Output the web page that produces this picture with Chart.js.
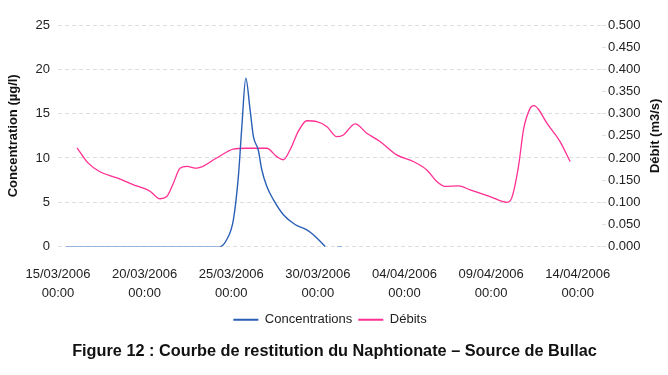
<!DOCTYPE html>
<html>
<head>
<meta charset="utf-8">
<script src="https://cdn.jsdelivr.net/npm/chart.js@4/dist/chart.umd.min.js"></script>
<style>
  html, body { margin: 0; padding: 0; background: #ffffff; }
  canvas { display: block; }
</style>
</head>
<body>
<canvas id="c" width="668" height="375"></canvas>
<script>
// x values are days elapsed since 15/03/2006 00:00
const xTickDays = [0, 5, 10, 15, 20, 25, 30];
const xTickLabels = ['15/03/2006', '20/03/2006', '25/03/2006', '30/03/2006', '04/04/2006', '09/04/2006', '14/04/2006'];
const xTickTime = '00:00';

const concDays   = [0.45, 9.35, 9.74, 10.12, 10.41, 10.61, 10.84, 11.09, 11.28, 11.56, 11.76, 12.05, 12.43, 13.01, 13.68, 14.36, 14.74, 15.13, 15.42, 15.8, 16.10, 16.40];
const concValues = [0,    0,    0.8,  3.0,   7.9,   13.5,  19.0,  15.4,  12.4,  10.9,  8.7,   6.8,   5.3,   3.6,   2.5,   1.9,   1.35,  0.6,   0,     null, 0,     0];

const debitDays   = [1.10, 1.73, 2.42, 3.41, 4.33, 5.31, 5.89, 6.28, 6.66, 7.04, 7.43, 8.01, 9.16, 10.12, 10.89, 12.05, 12.63, 13.00, 13.39, 13.87, 14.36, 14.94, 15.51, 16.09, 16.47, 17.15, 17.82, 18.59, 19.55, 20.51, 21.29, 21.86, 22.34, 23.11, 23.79, 24.94, 25.91, 26.19, 26.58, 26.87, 27.25, 27.48, 27.73, 28.21, 28.98, 29.56];
const debitValues = [0.223, 0.189, 0.169, 0.155, 0.140, 0.125, 0.108, 0.113, 0.143, 0.177, 0.181, 0.177, 0.200, 0.220, 0.222, 0.222, 0.203, 0.196, 0.218, 0.260, 0.284, 0.282, 0.271, 0.248, 0.252, 0.277, 0.256, 0.237, 0.207, 0.192, 0.173, 0.147, 0.136, 0.137, 0.128, 0.113, 0.100, 0.110, 0.181, 0.264, 0.312, 0.318, 0.310, 0.279, 0.237, 0.192];

const rightAxisTitle = 'Débit (m3/s)';

const FONT = "'Liberation Sans', Arial, Helvetica, sans-serif";
const BLUE = '#2a5fb5';
const BLUE_LIGHT = '#7fa3d8';
const PINK = '#ff2f93';

const concData = concDays.map((d, i) => ({ x: d, y: concValues[i] }));
const debitData = debitDays.map((d, i) => ({ x: d, y: debitValues[i] }));

// Right axis title reading bottom-to-top, as in the reference
const rightTitlePlugin = {
  id: 'rightTitle',
  afterDraw(chart) {
    const s = chart.scales.y1;
    const ctx = chart.ctx;
    ctx.save();
    ctx.translate(s.right - 12, (chart.chartArea.top + chart.chartArea.bottom) / 2);
    ctx.rotate(-Math.PI / 2);
    ctx.font = 'bold 13px ' + FONT;
    ctx.fillStyle = '#111';
    ctx.textAlign = 'center';
    ctx.textBaseline = 'middle';
    ctx.fillText(rightAxisTitle, 0, 0);
    ctx.restore();
  }
};

new Chart(document.getElementById('c'), {
  type: 'line',
  data: {
    datasets: [
      {
        label: 'Concentrations',
        data: concData,
        yAxisID: 'y',
        borderColor: BLUE,
        backgroundColor: BLUE,
        borderWidth: 1.4,
        pointRadius: 0,
        cubicInterpolationMode: 'monotone',
        spanGaps: false,
        segment: {
          borderColor: ctx => (ctx.p0.parsed.y === 0 && ctx.p1.parsed.y === 0) ? BLUE_LIGHT : BLUE
        }
      },
      {
        label: 'Débits',
        data: debitData,
        yAxisID: 'y1',
        borderColor: PINK,
        backgroundColor: PINK,
        borderWidth: 1.3,
        pointRadius: 0,
        cubicInterpolationMode: 'monotone'
      }
    ]
  },
  plugins: [rightTitlePlugin],
  options: {
    responsive: false,
    animation: false,
    events: [],
    layout: { padding: { top: 25, left: 2, right: 1, bottom: 0 } },
    scales: {
      x: {
        type: 'linear',
        min: 0,
        max: 31.4,
        afterBuildTicks: s => { s.ticks = xTickDays.map(v => ({ value: v })); },
        afterFit: s => { s.height = 60.5; },
        ticks: {
          autoSkip: false,
          maxRotation: 0,
          padding: 11,
          color: '#222',
          font: { family: FONT, size: 13, lineHeight: 1.4 },
          callback: v => [xTickLabels[xTickDays.indexOf(v)], xTickTime]
        },
        grid: { display: false },
        border: { display: false }
      },
      y: {
        position: 'left',
        min: 0,
        max: 25,
        afterFit: s => { s.width = 56; },
        ticks: {
          stepSize: 5,
          padding: 8,
          color: '#222',
          font: { family: FONT, size: 13 }
        },
        grid: { color: 'rgba(0,0,0,0.13)', drawTicks: false, lineWidth: 1 },
        border: { display: false, dash: [4, 3] },
        title: {
          display: true,
          text: 'Concentration (µg/l)',
          color: '#111',
          font: { family: FONT, size: 13, weight: 'bold' },
          padding: { top: 4, bottom: 0 }
        }
      },
      y1: {
        position: 'right',
        min: 0,
        max: 0.5,
        afterFit: s => { s.width = 65; },
        ticks: {
          stepSize: 0.05,
          padding: 2,
          color: '#222',
          font: { family: FONT, size: 13 },
          callback: v => Number(v).toFixed(3)
        },
        grid: { drawOnChartArea: false, drawTicks: true, tickLength: 4, color: 'rgba(0,0,0,0.12)' },
        border: { display: false },
        title: { display: false }
      }
    },
    plugins: {
      tooltip: { enabled: false },
      legend: {
        position: 'bottom',
        fullSize: false,
        labels: {
          boxWidth: 25,
          boxHeight: 2,
          padding: 6,
          color: '#222',
          font: { family: FONT, size: 13 },
          generateLabels: chart =>
            Chart.defaults.plugins.legend.labels.generateLabels(chart).map(l => Object.assign(l, { lineWidth: 0 }))
        }
      },
      title: {
        display: true,
        position: 'bottom',
        text: 'Figure 12 : Courbe de restitution du Naphtionate – Source de Bullac',
        color: '#111',
        font: { family: FONT, size: 16.3, weight: 'bold' },
        padding: { top: 5.9, bottom: 13.4 }
      }
    }
  }
});
</script>
</body>
</html>
